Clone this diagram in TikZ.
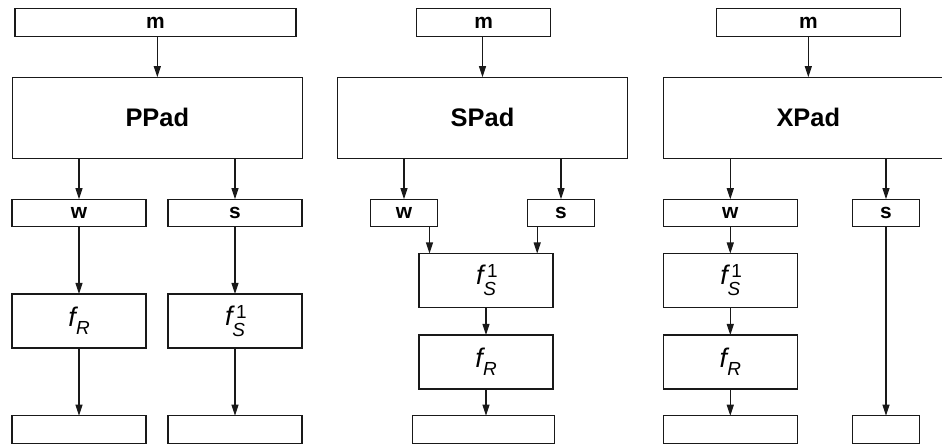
\documentclass[tikz,border=0pt]{standalone}
\usepackage{fontspec}
\setmainfont{Liberation Sans}
\usetikzlibrary{arrows.meta}

\newcommand{\scr}{\fontsize{19}{19}\selectfont}
\newcommand{\fsub}[1]{\textit{f}\kern-2bp\raisebox{-8bp}{\scr\textit{#1}}}
\newcommand{\fsubsup}[2]{\textit{f}\kern-2.5bp\makebox[0pt][l]{\kern3.7bp\raisebox{7bp}{\scr #2}}\raisebox{-11bp}{\scr\textit{#1}}}

\begin{document}
\begin{tikzpicture}[x=1bp, y=-1bp,
    box/.style={rectangle, draw=black!90, line width=1.2bp, inner sep=0pt, outer sep=0pt, minimum width=134bp, minimum height=27.5bp, font=\fontsize{21}{24}\selectfont\bfseries},
    padbox/.style={box, minimum width=290bp, minimum height=81bp, font=\fontsize{25.5}{30}\selectfont\bfseries},
    funbox/.style={box, minimum width=134bp, minimum height=54bp, font=\fontsize{27}{30}\selectfont},
    arr/.style={-{Triangle[length=11bp,width=7bp]}, line width=1.1bp, black!90}
  ]
    \useasboundingbox (0,0) rectangle (942,445);
    \clip (0,0) rectangle (942,445);

    % PPad
    \node[box, minimum width=281bp] (m1) at (155.5,22.5) {m};
    \node[padbox] (pad1) at (157.3,117.7) {PPad};
    \node[box] (w1) at (79,213) {w};
    \node[box] (s1) at (235,213) {s};
    \node[funbox] (fr1) at (79,321) {\fsub{R}};
    \node[funbox] (fs1) at (235,321) {\fsubsup{S}{1}};
    \node[box] (o1w) at (79,429.5) {};
    \node[box] (o1s) at (235,429.5) {};
    \draw[arr] (pad1.north |- m1.south) -- (pad1.north);
    \draw[arr] (w1.north |- pad1.south) -- (w1.north);
    \draw[arr] (s1.north |- pad1.south) -- (s1.north);
    \draw[arr] (w1) -- (fr1);
    \draw[arr] (s1) -- (fs1);
    \draw[arr] (fr1) -- (o1w);
    \draw[arr] (fs1) -- (o1s);

    % SPad
    \node[box] (m2) at (483.7,22.5) {m};
    \node[padbox] (pad2) at (482.5,117.7) {SPad};
    \node[box, minimum width=67bp] (w2) at (404,213) {w};
    \node[box, minimum width=67bp] (s2) at (561,213) {s};
    \node[funbox] (fs2) at (486,280.5) {\fsubsup{S}{1}};
    \node[funbox] (fr2) at (486,362) {\fsub{R}};
    \node[box, minimum width=142bp] (o2) at (483.8,429.5) {};
    \coordinate (w2out) at ([xshift=-8bp]w2.south east);
    \coordinate (s2out) at ([xshift=9.7bp]s2.south west);
    \draw[arr] (pad2.north |- m2.south) -- (pad2.north);
    \draw[arr] (w2.north |- pad2.south) -- (w2.north);
    \draw[arr] (s2.north |- pad2.south) -- (s2.north);
    \draw[arr] (w2out) -- (w2out |- fs2.north);
    \draw[arr] (s2out) -- (s2out |- fs2.north);
    \draw[arr] (fs2) -- (fr2);
    \draw[arr] (fr2.south) -- (fr2.south |- o2.north);

    % XPad
    \node[box, minimum width=184bp] (m3) at (808.3,22.5) {m};
    \node[padbox] (pad3) at (808.3,117.7) {XPad};
    \node[box] (w3) at (730.3,213) {w};
    \node[box, minimum width=67bp] (s3) at (886,213) {s};
    \node[funbox] (fs3) at (730.3,280.5) {\fsubsup{S}{1}};
    \node[funbox] (fr3) at (730.3,362) {\fsub{R}};
    \node[box] (o3w) at (730.3,429.5) {};
    \node[box, minimum width=67bp] (o3s) at (886,429.5) {};
    \draw[arr] (m3) -- (pad3);
    \draw[arr] (w3.north |- pad3.south) -- (w3.north);
    \draw[arr] (s3.north |- pad3.south) -- (s3.north);
    \draw[arr] (w3) -- (fs3);
    \draw[arr] (fs3) -- (fr3);
    \draw[arr] (fr3) -- (o3w);
    \draw[arr] (s3) -- (o3s);
\end{tikzpicture}
\end{document}
